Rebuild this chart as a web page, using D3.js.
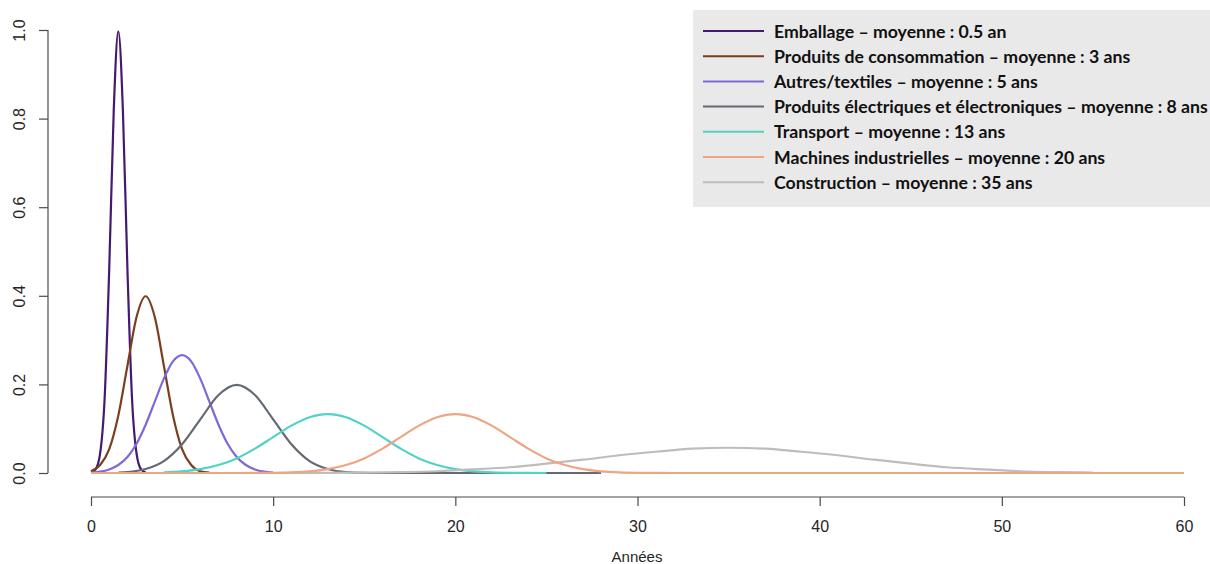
<!DOCTYPE html>
<html><head><meta charset="utf-8">
<script src="https://cdn.jsdelivr.net/npm/d3@7"></script>
<style>
html,body{margin:0;padding:0;background:#fff;}
svg{display:block;}
</style></head>
<body>
<svg id="chart" width="1210" height="564"></svg>
<script>
// ---- data ----
const seriesNames = [
  "Emballage – moyenne : 0.5 an",
  "Produits de consommation – moyenne : 3 ans",
  "Autres/textiles – moyenne : 5 ans",
  "Produits électriques et électroniques – moyenne : 8 ans",
  "Transport – moyenne : 13 ans",
  "Machines industrielles – moyenne : 20 ans",
  "Construction – moyenne : 35 ans"
];
const seriesColors = ["#45196f","#7a3f1f","#7d6ad8","#636a73","#4fd3c6","#eea583","#bdbdbd"];

const emballageX = [0,0.25,0.5,0.75,1,1.25,1.5,1.75,2,2.25,2.5,2.75,3];
const emballageY = [0.001,0.008,0.044,0.17,0.46,0.82,0.997,0.82,0.46,0.17,0.044,0.008,0.001];

const consoX = [0,0.5,1,1.5,2,2.5,3,3.5,4,4.5,5,5.5,6,6.5];
const consoY = [0.004,0.018,0.054,0.13,0.242,0.352,0.399,0.352,0.242,0.13,0.054,0.018,0.004,0.001];

const textX = [0,0.5,1,1.5,2,2.5,3,3.5,4,4.5,5,5.5,6,6.5,7,7.5,8,8.5,9,9.5,10];
const textY = [0.001,0.003,0.008,0.018,0.036,0.066,0.109,0.161,0.213,0.252,0.266,0.252,0.213,0.161,0.109,0.066,0.036,0.018,0.008,0.003,0.001];

const elecX = [1.5,2,3,4,5,6,7,8,9,10,11,12,13,14,15,16,17,28];
const elecY = [0.001,0.002,0.009,0.027,0.065,0.121,0.176,0.199,0.176,0.121,0.065,0.027,0.009,0.002,0.0004,0,0,0];

const transX = [4,5,6,7,8,9,10,11,12,13,14,15,16,17,18,19,20,21,22,23,24,25];
const transY = [0.0015,0.0038,0.0087,0.018,0.033,0.055,0.081,0.107,0.126,0.133,0.126,0.107,0.081,0.055,0.033,0.018,0.0087,0.0038,0.0015,0.0005,0.0002,0];

const machX = [0,8,9,10,11,12,13,14,15,16,17,18,19,20,21,22,23,24,25,26,27,28,29,30,31,32,60];
const machY = [0,0,0.0002,0.0005,0.0015,0.0038,0.0087,0.018,0.033,0.055,0.081,0.107,0.126,0.133,0.126,0.107,0.081,0.055,0.033,0.018,0.0087,0.0038,0.0015,0.0005,0.0002,0,0];

const constrX = [10,11,13,15,17,19,21,23,25,27,29,31,33,35,37,39,41,43,45,47,49,51,53,55];
const constrY = [0,0.0002,0.0004,0.001,0.002,0.004,0.008,0.013,0.021,0.030,0.040,0.048,0.055,0.057,0.055,0.048,0.040,0.030,0.021,0.013,0.008,0.004,0.002,0.001];

const xTicks = [0,10,20,30,40,50,60];
const yTicks = [0,0.2,0.4,0.6,0.8,1.0];
const xTitle = "Années";

// ---- build ----
const seriesX = [emballageX, consoX, textX, elecX, transX, machX, constrX];
const seriesY = [emballageY, consoY, textY, elecY, transY, machY, constrY];
const series = seriesNames.map((name,i)=>({
  name, color: seriesColors[i],
  pts: seriesX[i].map((x,j)=>({x, y: seriesY[i][j]}))
}));
const drawOrder = [0,1,2,3,4,6,5];

const svg = d3.select("#chart");
const x = d3.scaleLinear().domain([0,60]).range([91,1184]);
const y = d3.scaleLinear().domain([0,1]).range([473,30]);
const axisColor = "#4a4a4a";
const tickFont = "Liberation Sans, Arial, sans-serif";

// axes (R style)
const gx = svg.append("g").attr("transform","translate(0,497)")
  .call(d3.axisBottom(x).tickValues(xTicks).tickFormat(d3.format("d")).tickSize(9).tickPadding(15).tickSizeOuter(0));
gx.select(".domain").attr("d", `M${x(0)},0H${x(60)}`);
const gy = svg.append("g").attr("transform","translate(48,0)")
  .call(d3.axisLeft(y).tickValues(yTicks).tickFormat(d3.format(".1f")).tickSize(9).tickPadding(0).tickSizeOuter(0));
gy.select(".domain").attr("d", `M0,${y(0)}V${y(1)}`);
[gx,gy].forEach(g=>{
  g.selectAll(".domain,line").attr("stroke",axisColor).attr("stroke-width",1.2);
  g.selectAll("text").attr("fill","#262626").style("font-family",tickFont).style("font-size","16px");
});
gy.selectAll(".tick text")
  .attr("x",0).attr("dy",null)
  .attr("text-anchor","middle")
  .attr("transform","translate(-29,0) rotate(-90)")
  .attr("y",0).attr("dominant-baseline","central");

svg.append("text").attr("x",637).attr("y",562).attr("text-anchor","middle")
  .attr("fill","#262626").style("font-family",tickFont).style("font-size","15px").text(xTitle);

// curves
const line = d3.line().x(d=>x(d.x)).y(d=>y(d.y)).curve(d3.curveMonotoneX);
const gc = svg.append("g");
drawOrder.forEach(i=>{
  gc.append("path").datum(series[i].pts).attr("d",line)
    .attr("fill","none").attr("stroke",series[i].color).attr("stroke-width",2.2)
    .attr("stroke-linejoin","round");
});

// legend
const lg = svg.append("g");
lg.append("rect").attr("x",693).attr("y",10).attr("width",530).attr("height",197).attr("fill","#e9e9e9");
const rowY = i => 31 + i*25.2;
const texts = [];
series.forEach((s,i)=>{
  lg.append("line").attr("x1",703).attr("x2",764).attr("y1",rowY(i)).attr("y2",rowY(i))
    .attr("stroke",s.color).attr("stroke-width",2);
  texts.push(lg.append("text").attr("x",774).attr("y",rowY(i)).attr("dominant-baseline","central")
    .attr("fill","#111").style("font-family","Lato, 'Open Sans', sans-serif").style("font-weight","bold")
    .style("font-size","16px").text(s.name));
});
const w = texts[3].node().getComputedTextLength();
const fs = 16*434/w;
texts.forEach(t=>t.style("font-size",fs+"px"));
</script>
</body></html>
